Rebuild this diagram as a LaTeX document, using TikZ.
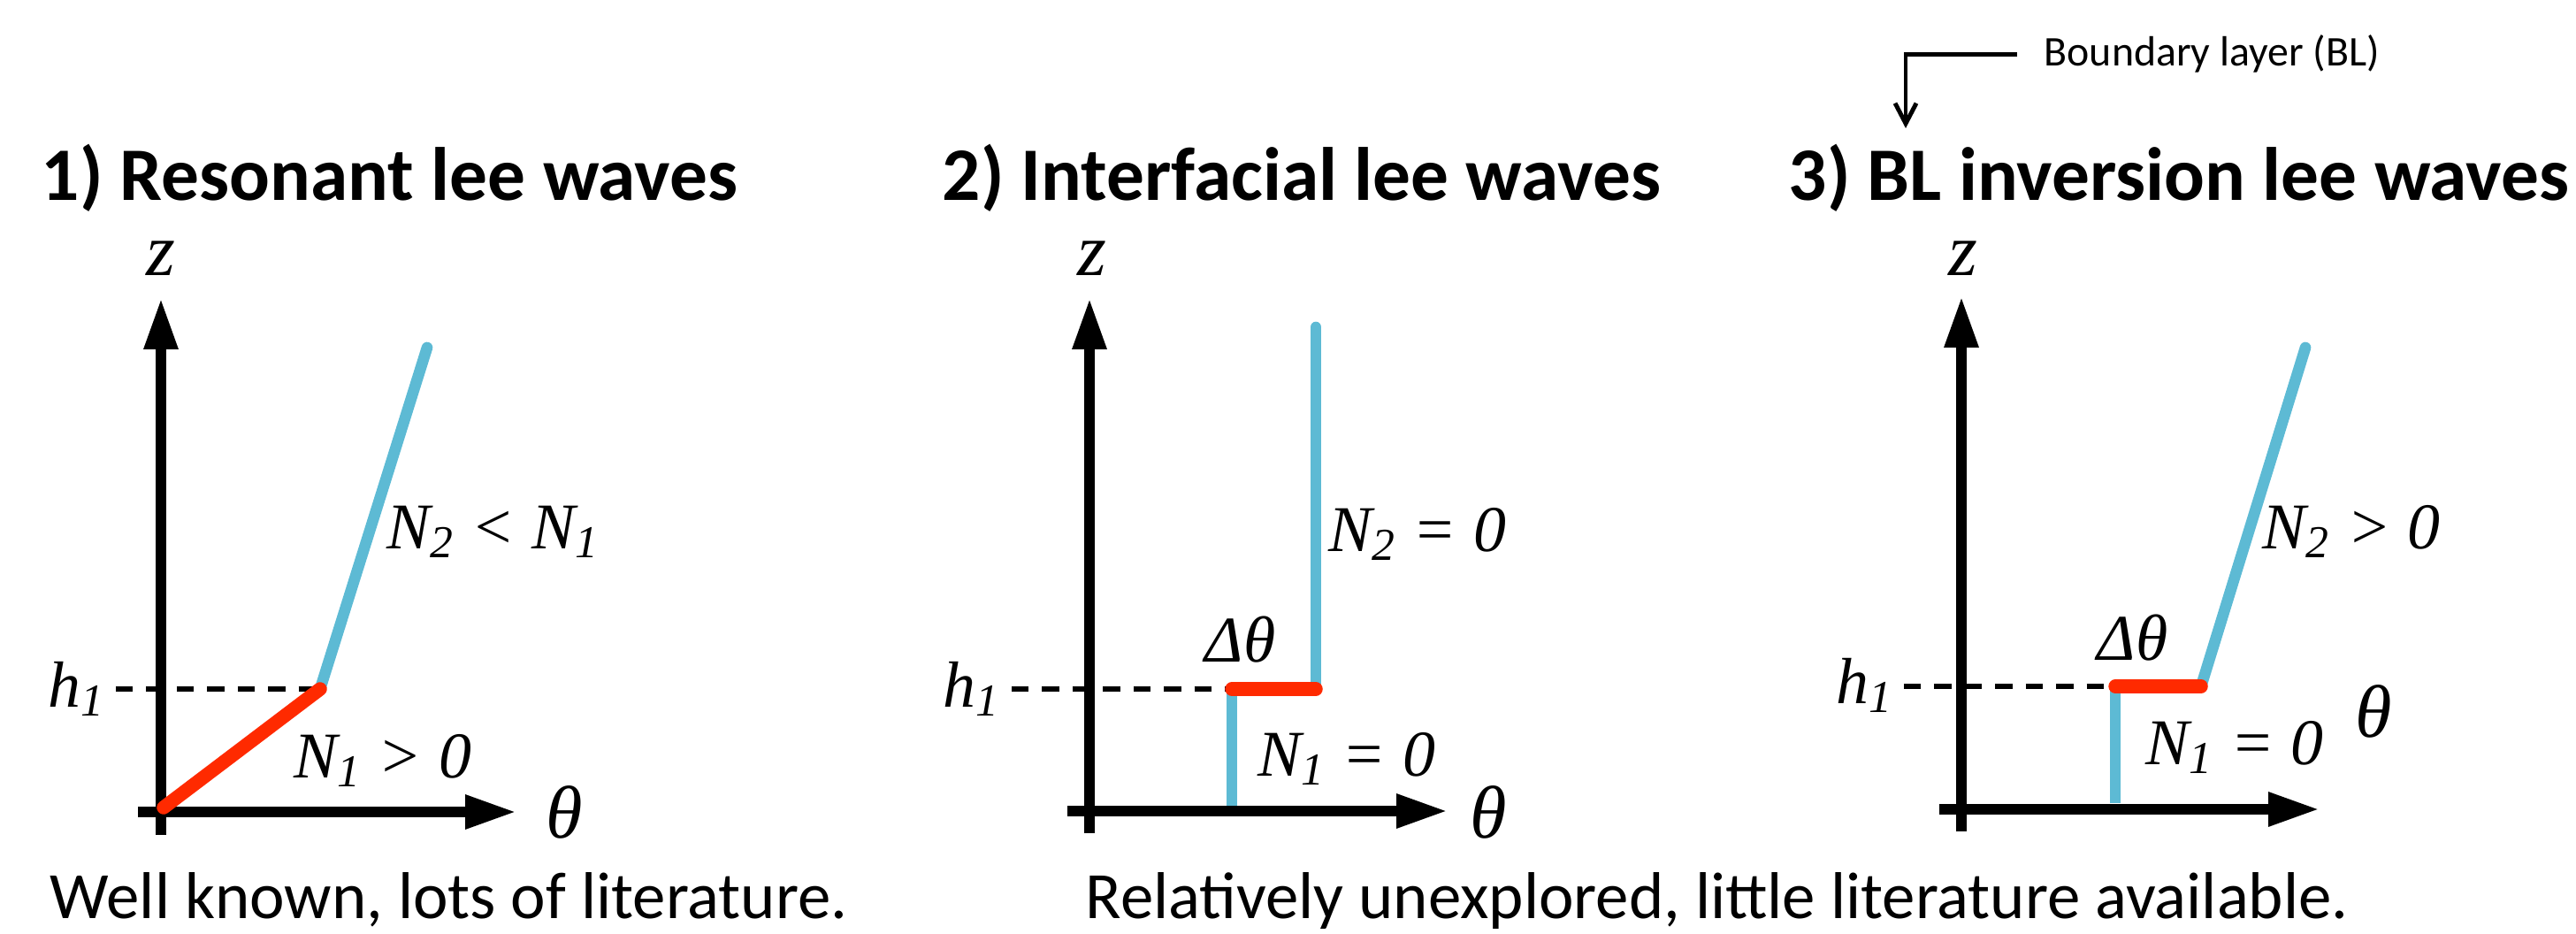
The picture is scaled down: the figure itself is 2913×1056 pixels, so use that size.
\documentclass[tikz,border=0pt]{standalone}
\usepackage{fontspec}
\setmainfont{Carlito}
\newfontfamily\tms{Liberation Serif}
\usetikzlibrary{arrows.meta,positioning}
\definecolor{lwred}{HTML}{FF2A00}
\definecolor{lwblue}{HTML}{5DBAD4}
\tikzset{
  ttl/.style={anchor=base west,inner sep=0pt,font=\bfseries\fontsize{24.3}{29}\selectfont},
  note/.style={anchor=base west,inner sep=0pt,font=\fontsize{21.3}{25}\selectfont},
  lbl/.style={anchor=base west,inner sep=0pt,font=\tms\itshape\fontsize{21}{25}\selectfont},
  axlbl/.style={inner sep=0pt,font=\tms\itshape\fontsize{24}{28}\selectfont},
  ax/.style={line width=3.4pt,-{Triangle[length=5.8mm,width=3.6mm]}},
  lev/.style={line width=1.5pt,dash pattern=on 5.5pt off 4.3pt},
  upper/.style={line width=3.6pt,lwblue,line cap=round},
  jump/.style={line width=4.4pt,lwred,line cap=round},
  blarr/.style={line width=1.4pt,-{Straight Barb[length=2.3mm,width=2.4mm]}},
}
\begin{document}
\begin{tikzpicture}[x=0.1mm,y=-0.1mm]
  \useasboundingbox (0,0) rectangle (2913,1056);
  \node[ttl] (t1) at (46,227) {1) Resonant lee waves};
  \node[ttl] (t2) at (1065,227) {2) Interfacial lee waves};
  \node[ttl] (t3) at (2022,227) {3) BL inversion lee waves};
  \node[note] (c1) at (56,1038) {Well known, lots of literature.};
  \node[note] (c2) at (1227,1038) {Relatively unexplored, little literature available.};
  \node[anchor=base west,inner sep=0pt,font=\fontsize{13.6}{16}\selectfont] (bl) at (2311,75) {Boundary layer (BL)};
  \coordinate (bltip) at (2155,145);
  \draw[blarr] ([xshift=-3mm]bl.west) -| (bltip);

  \coordinate (a1) at (362,779);
  \draw[lev] (131,779) -- (a1);
  \draw[ax] (182,944) -- (182,337);
  \draw[ax] (156,918) -- (584,918);
  \coordinate (o1) at (185,913);
  \coordinate (e1) at (483,393);
  \draw[upper] (a1) -- (e1);
  \draw[jump] (o1) -- (a1);
  \node[axlbl,anchor=base] (z1) at (182,312) {z};
  \node[axlbl] (th1) at (638,918) {θ};
  \node[lbl] (h1) at (54,799) {h\textsubscript{1}};
  \node[lbl] (n21) at (437,620) {N\textsubscript{2} < N\textsubscript{1}};
  \node[lbl] (n11) at (332,879) {N\textsubscript{1} > 0};

  \coordinate (a2) at (1393,779);
  \coordinate (b2) at (1488,779);
  \draw[lev] (1144,779) -- (a2);
  \draw[ax] (1232,942) -- (1232,337);
  \draw[ax] (1207,917) -- (1637,917);
  \coordinate (o2) at (1393,911);
  \coordinate (e2) at (1488,370);
  \draw[upper,line cap=butt] (o2) -- (a2);
  \draw[upper] (b2) -- (e2);
  \draw[jump] (a2) -- (b2);
  \node[axlbl,anchor=base] (z2) at (1235,312) {z};
  \node[axlbl] (th2) at (1683,918) {θ};
  \node[lbl] (h2) at (1066,799) {h\textsubscript{1}};
  \node[lbl] (d2) at (1362,748) {Δθ};
  \node[lbl] (n22) at (1502,623) {N\textsubscript{2} = 0};
  \node[lbl] (n12) at (1422,877) {N\textsubscript{1} = 0};

  \coordinate (a3) at (2392,776);
  \coordinate (b3) at (2489,776);
  \draw[lev] (2153,776) -- (a3);
  \draw[ax] (2218,940) -- (2218,335);
  \draw[ax] (2193,915) -- (2623,915);
  \coordinate (o3) at (2392,908);
  \coordinate (e3) at (2607,393);
  \draw[upper,line cap=butt] (o3) -- (a3);
  \draw[upper] (b3) -- (e3);
  \draw[jump] (a3) -- (b3);
  \node[axlbl,anchor=base] (z3) at (2220,312) {z};
  \node[axlbl] (th3) at (2684,804) {θ};
  \node[lbl] (h3) at (2076,795) {h\textsubscript{1}};
  \node[lbl] (d3) at (2371,746) {Δθ};
  \node[lbl] (n23) at (2558,620) {N\textsubscript{2} > 0};
  \node[lbl] (n13) at (2426,864) {N\textsubscript{1} = 0};
\end{tikzpicture}
\end{document}
